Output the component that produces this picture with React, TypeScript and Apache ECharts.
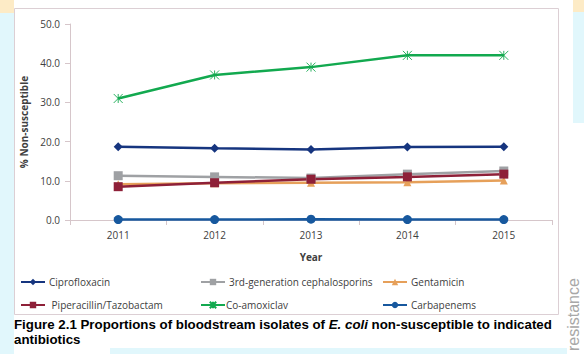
import React, { useEffect, useRef } from "react";
import * as echarts from "echarts";

const years = ["2011", "2012", "2013", "2014", "2015"];
const ciprofloxacin = [18.7, 18.3, 18.0, 18.6, 18.7];
const thirdGenCeph = [11.3, 11.0, 10.7, 11.7, 12.5];
const gentamicin = [9.1, 9.4, 9.5, 9.6, 10.1];
const piperacillin = [8.5, 9.5, 10.4, 11.0, 11.7];
const coAmoxiclav = [31.0, 37.0, 39.0, 42.0, 42.0];
const carbapenems = [0.1, 0.1, 0.2, 0.1, 0.1];
const yTicks = [0, 10, 20, 30, 40, 50];

const FONT = "'Open Sans', 'DejaVu Sans', sans-serif";
const TEXT = "#404040";
const AXIS = "#d6c6ca";
const ASTERISK = "path://M0,0L10,10M10,0L0,10M5,0L5,10";

export default function App() {
  const ref = useRef<HTMLDivElement>(null);
  useEffect(() => {
    const chart = echarts.init(ref.current!, null, { renderer: "svg" });
    const mk = (name: string, data: number[], color: string, symbol: string, size: number, extra: any = {}) => ({
      name,
      type: "line",
      data,
      symbol,
      symbolSize: size,
      lineStyle: { color, width: 2.5 },
      itemStyle: { color, borderColor: color, borderWidth: 0, ...(extra.itemStyle || {}) },
      emphasis: { disabled: true },
    });
    const legendBase = {
      orient: "vertical",
      top: 275,
      padding: 0,
      itemWidth: 24,
      itemHeight: 8,
      itemGap: 9,
      textStyle: { fontFamily: FONT, fontSize: 10, color: TEXT, lineHeight: 14, padding: [0, 0, 0, -1] },
      selectedMode: false,
    };
    chart.setOption({
      animation: false,
      backgroundColor: "#ffffff",
      graphic: [
        { type: "rect", left: 0, top: 0, shape: { x: 0, y: 0, width: 14, height: 354 }, style: { fill: "#e1f7fc" }, z: -10 },
        { type: "rect", left: 0, top: 0, shape: { x: 0, y: 0, width: 14, height: 13 }, style: { fill: "#fdebc6" }, z: -10 },
        { type: "rect", left: 573, top: 0, shape: { x: 0, y: 0, width: 11, height: 12 }, style: { fill: "#fdebc6" }, z: -10 },
        { type: "rect", left: 573, top: 12, shape: { x: 0, y: 0, width: 11, height: 111 }, style: { fill: "#e1f7fc" }, z: -10 },
        { type: "rect", left: 110, top: 348, shape: { x: 0, y: 0, width: 457, height: 6 }, style: { fill: "#e1f7fc" }, z: -10 },
        {
          type: "rect",
          shape: { x: 14.5, y: 8.5, width: 544, height: 306 },
          style: { fill: "#ffffff", stroke: "#dccfd4", lineWidth: 1 },
          z: -5,
        },
        {
          type: "text",
          left: 14,
          top: 318,
          style: {
            text: "{b|Figure 2.1 Proportions of bloodstream isolates of }{i|E. coli}{b| non-susceptible to indicated}\n{b|antibiotics}",
            rich: {
              b: { fontFamily: "'Liberation Sans', Arial, sans-serif", fontWeight: "bold", fontSize: 13.3, fill: "#000", lineHeight: 15 },
              i: { fontFamily: "'Liberation Sans', Arial, sans-serif", fontWeight: "bold", fontStyle: "italic", fontSize: 13.3, fill: "#000", lineHeight: 15 },
            },
          },
        },
        {
          type: "text",
          x: 565,
          y: 351,
          rotation: Math.PI / 2,
          style: {
            text: "resistance",
            fontFamily: "'Liberation Sans', Arial, sans-serif",
            fontSize: 16,
            fill: "#a8a8a8",
            align: "left",
            verticalAlign: "top",
          },
        },
      ],
      grid: { left: 70, right: 32, top: 24, bottom: 134, containLabel: false },
      xAxis: {
        type: "category",
        data: years,
        boundaryGap: true,
        name: "Year",
        nameLocation: "middle",
        nameGap: 32,
        nameTextStyle: { fontFamily: FONT, fontSize: 10, fontWeight: "bold", color: TEXT },
        axisLine: { lineStyle: { color: AXIS, width: 1 } },
        axisTick: { show: true, length: 5, lineStyle: { color: AXIS } },
        axisLabel: { fontFamily: FONT, fontSize: 10, color: TEXT, margin: 10 },
      },
      yAxis: {
        type: "value",
        min: 0,
        max: 50,
        interval: 10,
        name: "% Non-susceptible",
        nameLocation: "middle",
        nameGap: 38,
        nameTextStyle: { fontFamily: FONT, fontSize: 10, fontWeight: "bold", color: TEXT },
        axisLine: { show: true, lineStyle: { color: AXIS, width: 1 } },
        axisTick: { show: true, length: 5, lineStyle: { color: AXIS } },
        splitLine: { show: false },
        axisLabel: {
          fontFamily: FONT,
          fontSize: 10,
          color: TEXT,
          margin: 10,
          formatter: (v: number) => (yTicks.includes(v) ? v.toFixed(1) : ""),
        },
      },
      legend: [
        { ...legendBase, left: 20, data: ["Ciprofloxacin", " Piperacillin/Tazobactam"] },
        { ...legendBase, left: 200, data: ["3rd-generation cephalosporins", { name: "Co-amoxiclav", textStyle: { padding: [0, 0, 0, -4] } }] },
        { ...legendBase, left: 382, data: ["Gentamicin", "Carbapenems"] },
      ],
      series: [
        mk("Ciprofloxacin", ciprofloxacin, "#16357f", "diamond", 9),
        mk("3rd-generation cephalosporins", thirdGenCeph, "#9fa1a4", "rect", 9),
        mk("Gentamicin", gentamicin, "#e6a05a", "triangle", 8),
        mk(" Piperacillin/Tazobactam", piperacillin, "#8e2038", "rect", 9),
        mk("Co-amoxiclav", coAmoxiclav, "#12a94f", ASTERISK, 9, { itemStyle: { borderWidth: 0.9 } }),
        mk("Carbapenems", carbapenems, "#17589e", "circle", 9),
      ],
    });
    return () => chart.dispose();
  }, []);
  return (
    <div
      ref={ref}
      style={{ position: "fixed", left: 0, top: 0, width: 584, height: 354 }}
    />
  );
}
